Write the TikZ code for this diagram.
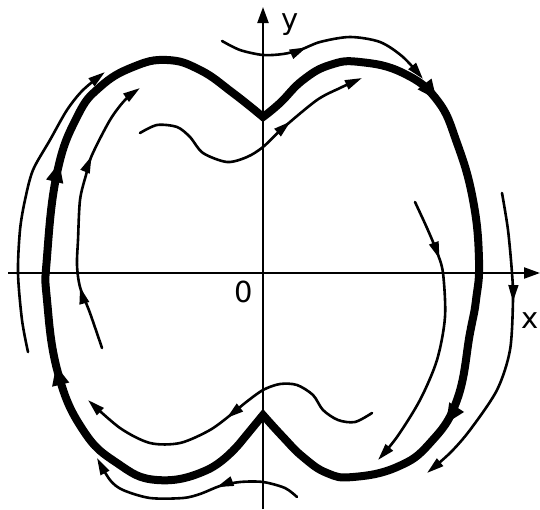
\documentclass[tikz,border=0pt]{standalone}
\usepackage{fontspec}
\setmainfont{DejaVu Sans}
\usetikzlibrary{arrows.meta,decorations.markings}
\begin{document}
\begin{tikzpicture}[x=1pt,y=-1pt,
  >={Triangle[length=17pt,width=9.5pt]},
  axisline/.style={line width=2.2pt,-{Triangle[length=16pt,width=11pt]}},
  flowline/.style={line width=2.6pt,line cap=round},
  boundline/.style={line width=8pt,line join=miter},
  midarr/.style={postaction={decorate,decoration={markings,mark=at position #1 with {\arrow{>}}}}},
  bigarr/.style={postaction={decorate,decoration={markings,mark=at position #1 with {\arrow{Triangle[length=20pt,width=16pt]}}}}},
  lab/.style={font=\fontsize{29}{30}\selectfont,inner sep=0pt}]
\useasboundingbox (0,0) rectangle (540,509);
% axes
\coordinate (xs) at (8,273);
\coordinate (xe) at (540,273);
\coordinate (ys) at (263,509);
\coordinate (ye) at (263,7);
\draw[axisline] (xs) -- (xe);
\draw[axisline] (ys) -- (ye);
\node[lab,anchor=base] (ly) at (290,29) {y};
\node[lab] (lo) at (243.5,292) {0};
\node[lab] (lx) at (530,321) {x};
% thick boundary
\draw[boundline]
  plot[smooth,tension=0.75] coordinates {(263,117) (280,103) (303,80) (330,65) (360,62) (403,73) (437,100) (457,143) (473,200) (479,260) (476,300) (470,333) (457,400) (430,443) (397,467) (353,477) (327,473) (303,457) (283,437) (263,415)}
  -- plot[smooth,tension=0.75] coordinates {(240,443) (207,470) (157,480) (117,463) (83,430) (58,373) (47,300) (47,257) (57,173) (77,117) (100,87) (133,67) (167,60) (200,70) (233,93) (263,117)} -- cycle;
\path[line width=8pt,bigarr=0.267,bigarr=0.706]
  plot[smooth,tension=0.75] coordinates {(263,117) (280,103) (303,80) (330,65) (360,62) (403,73) (437,100) (457,143) (473,200) (479,260) (476,300) (470,333) (457,400) (430,443) (397,467) (353,477) (327,473) (303,457) (283,437) (263,415)};
\path[line width=8pt,bigarr=0.38,bigarr=0.645]
  plot[smooth,tension=0.75] coordinates {(263,415) (240,443) (207,470) (157,480) (117,463) (83,430) (58,373) (47,300) (47,257) (57,173) (77,117) (100,87) (133,67) (167,60) (200,70) (233,93) (263,117)};
% top outer
\draw[flowline,->,midarr=0.4] plot[smooth] coordinates {(222,41) (240,50) (263,55) (283,54) (300,50) (320,42) (350,37) (380,42) (403,57) (423,79)};
% top inner wave
\draw[flowline,->,midarr=0.68] plot[smooth] coordinates {(140,133) (157,125) (177,127) (190,137) (203,153) (227,162) (247,157) (263,147) (283,128) (317,100) (340,88) (362,78)};
% left outer
\draw[flowline,->] plot[smooth] coordinates {(28,352) (22,320) (18,273) (20,230) (25,200) (33,170) (50,140) (67,110) (83,90) (105,72)};
% left inner
\draw[flowline,->,midarr=0.23,midarr=0.70] plot[smooth] coordinates {(102,348) (90,313) (80,287) (77,265) (78,240) (80,200) (86,175) (92,155) (110,120) (125,100) (140,88)};
% right inner
\draw[flowline,->,midarr=0.22] plot[smooth] coordinates {(415,202) (427,228) (437,252) (443,273) (445,317) (437,360) (420,400) (397,437) (378,460)};
% right outer
\draw[flowline,->,midarr=0.355] plot[smooth] coordinates {(502,193) (508,230) (512,273) (513,300) (510,350) (497,390) (470,430) (450,453) (427,473)};
% bottom inner wave
\draw[flowline,->,midarr=0.52] plot[smooth] coordinates {(372,413) (355,422) (338,420) (323,410) (313,395) (297,385) (280,384) (263,390) (245,403) (233,413) (210,430) (180,443) (150,443) (120,428) (88,400)};
% bottom outer
\draw[flowline,->,midarr=0.38] plot[smooth] coordinates {(297,497) (285,488) (263,482) (240,482) (220,486) (200,494) (183,498) (150,498) (123,490) (110,480) (97,458)};
\end{tikzpicture}
\end{document}
